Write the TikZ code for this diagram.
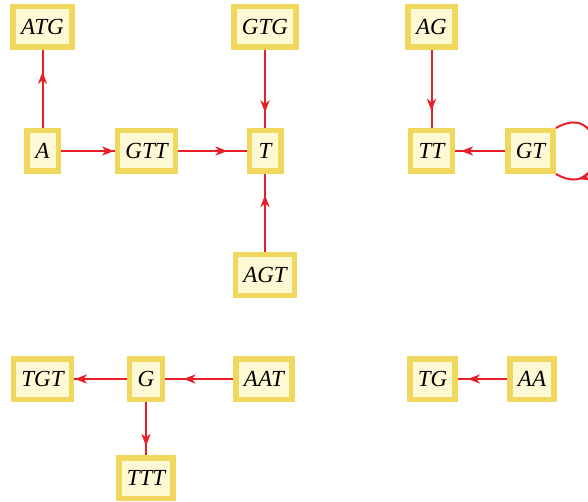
\documentclass[tikz,border=0pt]{standalone}
\usepackage{fontspec}
\setmainfont{Liberation Serif}
\usepackage{xcolor}
\usetikzlibrary{arrows.meta,decorations.markings}

\definecolor{boxrim}{RGB}{240,216,94}
\definecolor{boxfill}{RGB}{253,249,212}
\definecolor{linkred}{RGB}{232,30,40}

\tikzset{
  seq/.style={draw=boxrim, fill=boxfill, line width=5.5pt, inner xsep=8pt,
    minimum width=31.5pt, minimum height=40.5pt,
    font=\fontsize{23}{23}\selectfont\itshape},
  link/.style={draw=linkred, line width=2pt, postaction={decorate},
    decoration={markings, mark=at position #1 with {\arrow{Stealth[length=12pt,width=9pt,inset=3.5pt]}}}},
  link/.default=0.75
}

\begin{document}
\begin{tikzpicture}[x=1pt,y=-1pt]
\useasboundingbox (0,0) rectangle (588,502);

%Nodes: left group
\node [seq] (ATG) at (42.5,27) {ATG};
\node [seq] (GTG) at (265,27) {GTG};
\node [seq] (A) at (42.5,151) {A};
\node [seq] (GTT) at (146.5,151) {GTT};
\node [seq] (T) at (265,151) {T};
\node [seq] (AGT) at (265,275) {AGT};

%Nodes: right group
\node [seq] (AG) at (431.5,27) {AG};
\node [seq] (TT) at (431.5,151) {TT};
\node [seq] (GT) at (530.5,151) {GT};

%Nodes: bottom left group
\node [seq] (TGT) at (42.5,379) {TGT};
\node [seq] (G) at (146,379) {G};
\node [seq] (AAT) at (264,379) {AAT};
\node [seq] (TTT) at (146,478) {TTT};

%Nodes: bottom right group
\node [seq] (TG) at (432.5,379) {TG};
\node [seq] (AA) at (532,379) {AA};

%Straight Lines
\draw [link=0.72] (A) -- (ATG);
\draw [link=0.99] (A) -- (GTT);
\draw [link=0.72] (GTT) -- (T);
\draw [link=0.8] (GTG) -- (T);
\draw [link=0.73] (AGT) -- (T);
\draw [link=0.78] (AG) -- (TT);
\draw [link=0.88] (GT) -- (TT);
\draw [link=0.99] (G) -- (TGT);
\draw [link=0.73] (AAT) -- (G);
\draw [link=0.83] (G) -- (TTT);
\draw [link=0.8] (AA) -- (TG);

%Self loop
\draw [link=0.8] (GT.north east) to [out=30,in=-30,looseness=3.4] (GT.south east);

\end{tikzpicture}
\end{document}
